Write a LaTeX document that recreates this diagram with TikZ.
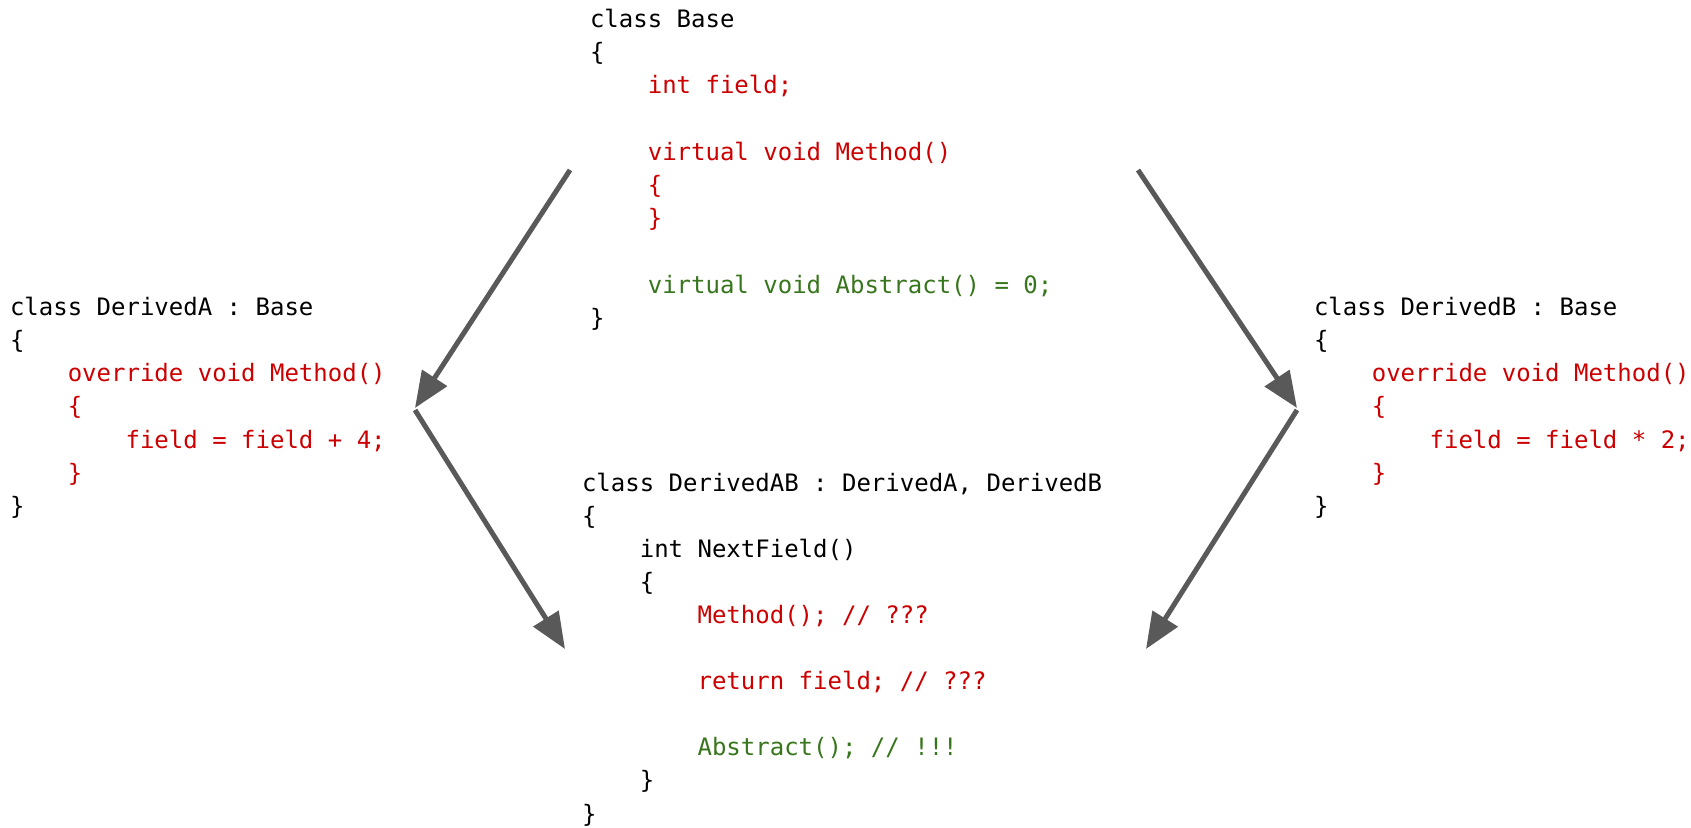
\documentclass[tikz,border=0pt]{standalone}
\usepackage{fontspec}
\setmainfont{DejaVu Sans Mono}
\setmonofont{DejaVu Sans Mono}
\usetikzlibrary{arrows.meta}
\definecolor{cRed}{HTML}{CC0000}
\definecolor{cGreen}{HTML}{38761D}
\definecolor{cArrow}{HTML}{595959}
\newcommand\indA{\phantom{0000}}
\newcommand\indB{\phantom{00000000}}
\tikzset{
  code/.style={anchor=north west, inner sep=0pt, outer sep=0pt, align=left,
    font=\ttfamily\fontsize{24}{33.3}\selectfont, text=black},
  codesmall/.style={code, font=\ttfamily\fontsize{24}{33.1}\selectfont},
  inherit/.style={draw=cArrow, line width=5pt, -{Triangle[length=36pt,width=29pt]}, fill=cArrow}
}
\begin{document}
\begin{tikzpicture}[x=1pt,y=-1pt]
\useasboundingbox[fill=white] (0,0) rectangle (1691,827);

\node[code] (base) at (590,7) {\rule{0pt}{20pt}class Base\\
\{\\
\indA\textcolor{cRed}{int field;}\\
\mbox{}\\
\indA\textcolor{cRed}{virtual void Method()}\\
\indA\textcolor{cRed}{\{}\\
\indA\textcolor{cRed}{\}}\\
\mbox{}\\
\indA\textcolor{cGreen}{virtual void Abstract() = 0;}\\
\}};

\node[code] (derA) at (10,295) {\rule{0pt}{20pt}class DerivedA : Base\\
\{\\
\indA\textcolor{cRed}{override void Method()}\\
\indA\textcolor{cRed}{\{}\\
\indB\textcolor{cRed}{field = field + 4;}\\
\indA\textcolor{cRed}{\}}\\
\}};

\node[code] (derB) at (1314,295) {\rule{0pt}{20pt}class DerivedB : Base\\
\{\\
\indA\textcolor{cRed}{override void Method()}\\
\indA\textcolor{cRed}{\{}\\
\indB\textcolor{cRed}{field = field * 2;}\\
\indA\textcolor{cRed}{\}}\\
\}};

\node[codesmall] (derAB) at (582,471) {\rule{0pt}{20pt}class DerivedAB : DerivedA, DerivedB\\
\{\\
\indA int NextField()\\
\indA\{\\
\indB\textcolor{cRed}{Method(); // ???}\\
\mbox{}\\
\indB\textcolor{cRed}{return field; // ???}\\
\mbox{}\\
\indB\textcolor{cGreen}{Abstract(); // !!!}\\
\indA\}\\
\}};

\coordinate (a1s) at (570,170);
\coordinate (a1e) at (415,408);
\coordinate (a2s) at (415,410);
\coordinate (a2e) at (565,649);
\coordinate (a3s) at (1138,170);
\coordinate (a3e) at (1297,408);
\coordinate (a4s) at (1297,410);
\coordinate (a4e) at (1146,649);

\draw[inherit] (a1s) -- (a1e);
\draw[inherit] (a2s) -- (a2e);
\draw[inherit] (a3s) -- (a3e);
\draw[inherit] (a4s) -- (a4e);
\end{tikzpicture}
\end{document}
